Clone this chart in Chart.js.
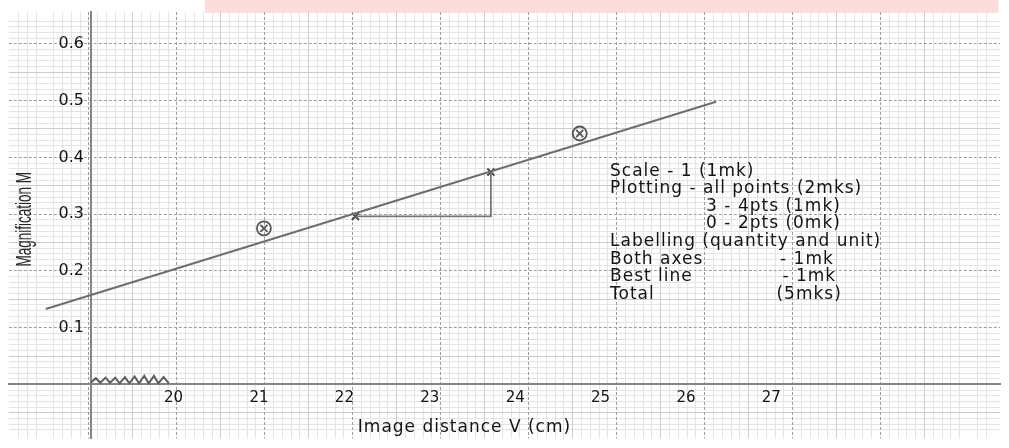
<!DOCTYPE html>
<html>
<head>
<meta charset="utf-8">
<script src="https://cdn.jsdelivr.net/npm/chart.js@4.4.1/dist/chart.umd.min.js"></script>
<style>
  html, body { margin: 0; padding: 0; background: #fff; }
</style>
</head>
<body>
<canvas id="chart" width="1009" height="448"></canvas>
<script>
'use strict';

// axis ranges (data units)
const xRange = [18.09, 29.36];
const xLabelRange = [18.07, 29.68];   // printed numbers drift a little from the grid
const yRange = [-0.095, 0.656];
const xAxisAt = 0;
const yAxisAt = 19.02;
const yLabelsAt = 18.945;

// tick labels
const xTickLabels = [20, 21, 22, 23, 24, 25, 26, 27];
const yTickLabels = [0.1, 0.2, 0.3, 0.4, 0.5, 0.6];

// plotted readings
const circledV = [20.99, 24.58];
const circledM = [0.275, 0.442];
const crossV = [22.03, 23.57];
const crossM = [0.296, 0.374];

// best line and gradient triangle
const bestLineV = [18.51, 26.13];
const bestLineM = [0.133, 0.498];
const gradientV = [22.03, 23.57, 23.57];
const gradientM = [0.296, 0.296, 0.374];

// broken-axis zigzag
const breakV = [19.02, 19.08, 19.13, 19.19, 19.24, 19.30, 19.35, 19.41, 19.46, 19.52, 19.57, 19.63, 19.68, 19.74, 19.79, 19.85, 19.91];
const breakM = [0.003, 0.011, 0.003, 0.012, 0.003, 0.012, 0.002, 0.013, 0.002, 0.014, 0.002, 0.015, 0.002, 0.015, 0.002, 0.013, 0.002];

const xTitle = 'Image distance V (cm)';
const yTitle = 'Magnification M';
const notes = [
  'Scale - 1 (1mk)',
  'Plotting - all points (2mks)',
  '               3 - 4pts (1mk)',
  '               0 - 2pts (0mk)',
  'Labelling (quantity and unit)',
  'Both axes            - 1mk',
  'Best line              - 1mk',
  'Total                   (5mks)'
];

const MINOR = '#e4e4e4';
const MEDIUM = '#cccccc';
const MAJOR = '#9c9c9c';
const AXIS = '#858585';
const INK = '#555555';
const TEXT = '#141414';

const pairs = (xs, ys) => xs.map((x, i) => ({ x: x, y: ys[i] }));
const onStep = (v, step) => Math.abs(v / step - Math.round(v / step)) < 1e-6;

function gridScale(axis, range, step, coarser, color, z) {
  return {
    type: 'linear',
    axis: axis,
    min: range[0],
    max: range[1],
    position: axis === 'x' ? { y: xAxisAt } : { x: yAxisAt },
    afterBuildTicks: s => {
      s.ticks = s.ticks.filter(t => onStep(t.value, step) && !(coarser && onStep(t.value, coarser)));
    },
    ticks: { display: false, stepSize: step, maxTicksLimit: 1000 },
    grid: { color: color, lineWidth: 1, drawTicks: false, z: z },
    border: { display: false }
  };
}

const xMain = gridScale('x', xRange, 1, 0, MAJOR, -1);
xMain.border = { display: true, color: AXIS, width: 2, dash: [3, 2] };
const yMain = gridScale('y', yRange, 0.1, 0, MAJOR, -1);
yMain.border = { display: true, color: AXIS, width: 2, dash: [3, 2] };

const paperNotes = {
  id: 'paperNotes',
  beforeDraw(chart) {
    const { ctx, scales, chartArea } = chart;
    const x0 = scales.x.getPixelForValue(20.32);
    const x1 = scales.x.getPixelForValue(29.34);
    ctx.save();
    ctx.fillStyle = '#fcdcdc';
    ctx.fillRect(x0, 0, x1 - x0, chartArea.top + 1);
    ctx.restore();
  },
  afterDraw(chart) {
    const { ctx, scales } = chart;
    ctx.save();
    ctx.fillStyle = TEXT;
    ctx.textBaseline = 'middle';
    ctx.letterSpacing = '1px';

    // marking scheme block
    ctx.font = '17px "DejaVu Sans"';
    ctx.textAlign = 'left';
    const nx = scales.x.getPixelForValue(24.925);
    const ny = scales.y.getPixelForValue(0.3755);
    notes.forEach((line, i) => ctx.fillText(line, nx, ny + i * 17.6));

    // x axis title
    ctx.textAlign = 'center';
    ctx.fillText(xTitle, scales.x.getPixelForValue(23.27), scales.y.getPixelForValue(-0.0755));

    // y axis title
    ctx.letterSpacing = '0px';
    ctx.fillStyle = '#262626';
    ctx.font = '13.5px "Liberation Sans", sans-serif';
    ctx.translate(scales.x.getPixelForValue(18.272), scales.y.getPixelForValue(0.291));
    ctx.scale(1.6, 1);
    ctx.rotate(-Math.PI / 2);
    ctx.fillText(yTitle, 0, 0);
    ctx.restore();
  }
};

new Chart(document.getElementById('chart'), {
  type: 'scatter',
  data: {
    datasets: [
      {
        data: pairs(bestLineV, bestLineM), showLine: true,
        borderColor: '#6e6e6e', borderWidth: 2, pointRadius: 0
      },
      {
        data: pairs(gradientV, gradientM), showLine: true,
        borderColor: '#777', borderWidth: 1.8, pointRadius: 0
      },
      {
        data: pairs(breakV, breakM), showLine: true,
        borderColor: '#5e5e5e', borderWidth: 2, pointRadius: 0
      },
      {
        data: pairs(circledV, circledM), pointStyle: 'circle', pointRadius: 7,
        borderColor: INK, borderWidth: 1.8, backgroundColor: 'rgba(0,0,0,0)'
      },
      {
        data: pairs(circledV, circledM), pointStyle: 'crossRot', pointRadius: 5,
        borderColor: INK, borderWidth: 1.8
      },
      {
        data: pairs(crossV, crossM), pointStyle: 'crossRot', pointRadius: 5,
        borderColor: '#4a4a4a', borderWidth: 2
      }
    ]
  },
  options: {
    responsive: false,
    animation: false,
    devicePixelRatio: 1,
    events: [],
    layout: { padding: { left: 5, top: 12, right: 0, bottom: 8 } },
    plugins: { legend: { display: false }, tooltip: { enabled: false } },
    scales: {
      xMinor: gridScale('x', xRange, 0.1, 0.5, MINOR, -3),
      yMinor: gridScale('y', yRange, 0.01, 0.05, MINOR, -3),
      xMed: gridScale('x', xRange, 0.5, 1, MEDIUM, -2),
      yMed: gridScale('y', yRange, 0.05, 0.1, MEDIUM, -2),
      x: xMain,
      y: yMain,
      xl: {
        type: 'linear', axis: 'x',
        min: xLabelRange[0], max: xLabelRange[1],
        position: { y: xAxisAt },
        afterBuildTicks: s => { s.ticks = s.ticks.filter(t => xTickLabels.includes(t.value)); },
        grid: { display: false, drawTicks: false },
        border: { display: false },
        ticks: {
          stepSize: 1, autoSkip: false, maxRotation: 0, padding: 5,
          color: TEXT, font: { family: 'DejaVu Sans', size: 15 },
          callback: v => String(v)
        }
      },
      yl: {
        type: 'linear', axis: 'y',
        min: yRange[0], max: yRange[1],
        position: { x: yLabelsAt },
        afterBuildTicks: s => {
          s.ticks = s.ticks.filter(t => yTickLabels.some(l => Math.abs(l - t.value) < 1e-6));
        },
        grid: { display: false, drawTicks: false },
        border: { display: false },
        ticks: {
          stepSize: 0.1, autoSkip: false, padding: 0,
          color: TEXT, font: { family: 'DejaVu Sans', size: 16 },
          callback: v => v.toFixed(1)
        }
      }
    }
  },
  plugins: [paperNotes]
});
</script>
</body>
</html>
